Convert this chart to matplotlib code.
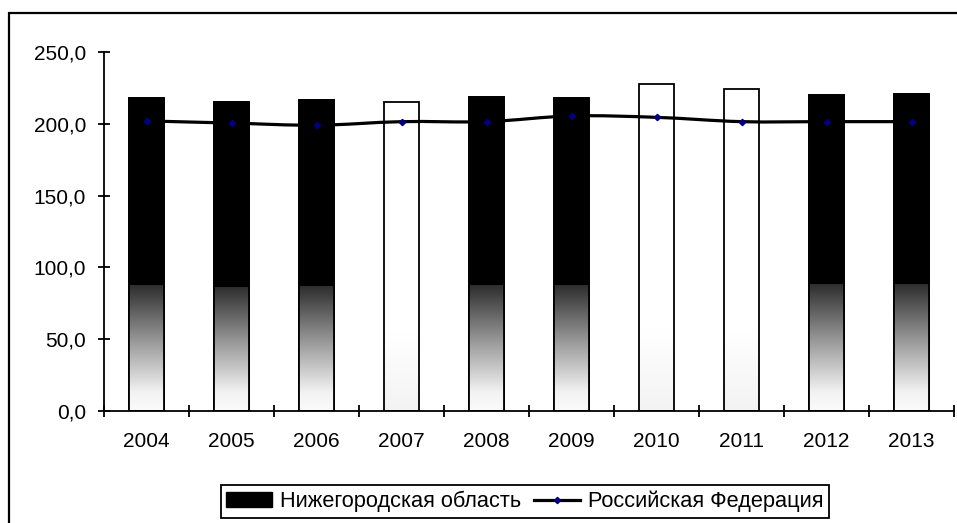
import numpy as np
import matplotlib
matplotlib.use('Agg')
import matplotlib.pyplot as plt
from matplotlib.path import Path
from matplotlib.patches import PathPatch, Rectangle
from matplotlib.lines import Line2D
from matplotlib.colors import LinearSegmentedColormap

matplotlib.rcParams.update({'font.family': 'Liberation Sans', 'font.size': 15})

# Data
years = ['2004', '2005', '2006', '2007', '2008', '2009', '2010', '2011', '2012', '2013']
nizhny = [218.0, 215.0, 216.5, 215.0, 219.0, 218.0, 228.0, 224.0, 220.0, 221.0]
russia = [202.0, 200.5, 199.0, 201.5, 201.5, 205.5, 204.5, 201.5, 201.5, 201.5]
white_bars = ['2007', '2010', '2011']

legend_labels = ['Нижегородская область', 'Российская Федерация']

fig = plt.figure(figsize=(9.57, 5.23), dpi=100)
ax = fig.add_axes([104/957, 1-411/523, 850/957, 359/523])

x = np.arange(len(years))
w = 0.41

#gradient colormap for the lower part of the dark bars
grad_cmap = LinearSegmentedColormap.from_list('g', [(0.0, '#fbfbfb'), (0.15, '#f2f2f2'),
                                                    (0.55, '#9a9a9a'), (1.0, '#2e2e2e')])
grad = np.linspace(0, 1, 256).reshape(-1, 1)
light_cmap = LinearSegmentedColormap.from_list('l', [(0.0, '#f3f3f3'), (0.25, '#ffffff'), (1.0, '#ffffff')])

for xi, yr, v in zip(x, years, nizhny):
    if yr in white_bars:
        ax.imshow(grad, cmap=light_cmap, origin='lower', aspect='auto',
                  extent=[xi-w/2, xi+w/2, 0, v], zorder=1)
        ax.bar(xi, v, w, facecolor='none', edgecolor='black', linewidth=1.3, zorder=2)
    else:
        ax.bar(xi, v, w, facecolor='black', edgecolor='black', linewidth=1.3, zorder=1)
        split = 0.4*v
        ax.imshow(grad, cmap=grad_cmap, origin='lower', aspect='auto',
                  extent=[xi-w/2, xi+w/2, 0, split], zorder=1.5)
        ax.bar(xi, v, w, facecolor='none', edgecolor='black', linewidth=1.3, zorder=2)

#smoothed line (bezier through the points)
pts = np.column_stack([x, russia]).astype(float)
ext = np.vstack([pts[0], pts, pts[-1]])
verts = [tuple(pts[0])]
codes = [Path.MOVETO]
for i in range(len(pts)-1):
    p0, p1, p2, p3 = ext[i], ext[i+1], ext[i+2], ext[i+3]
    c1 = p1 + (p2 - p0)/6
    c2 = p2 - (p3 - p1)/6
    verts += [tuple(c1), tuple(c2), tuple(p2)]
    codes += [Path.CURVE4]*3
ax.add_patch(PathPatch(Path(verts, codes), facecolor='none', edgecolor='black',
                       linewidth=2.3, zorder=3))
ax.plot(x, russia, linestyle='none', marker='D', markersize=3.2, color='#000080', zorder=4)

ax.set_xlim(-0.5, len(years)-0.5)
ax.set_ylim(0, 250)
ax.set_yticks(np.arange(0, 251, 50))
ax.yaxis.set_major_formatter(matplotlib.ticker.FuncFormatter(lambda v, p: ('%.1f' % v).replace('.', ',')))
ax.set_xticks(x)
ax.set_xticklabels(years)
ax.set_xticks(np.arange(-0.5, len(years)), minor=True)
ax.tick_params(axis='x', which='major', length=0, pad=15)
ax.tick_params(axis='x', which='minor', length=8, width=1.3, direction='inout')
ax.tick_params(axis='y', length=8, width=1.3, direction='inout', pad=9)

for s in ['top', 'right']:
    ax.spines[s].set_visible(False)
for s in ['left', 'bottom']:
    ax.spines[s].set_linewidth(1.3)

handles = [Rectangle((0, 0), 1, 1, facecolor='black', edgecolor='black'),
           Line2D([], [], color='black', linewidth=2.3, marker='D', markersize=3.2,
                  markerfacecolor='#000080', markeredgecolor='#000080')]
leg = fig.legend(handles, legend_labels, loc='center', bbox_to_anchor=(0.5486, 0.041), ncol=2,
                 fancybox=False, framealpha=1, edgecolor='black', handlelength=2.1,
                 handletextpad=0.37, columnspacing=0.6, borderpad=0.25, fontsize=15.7)
leg.get_frame().set_linewidth(1.3)

#outer chart frame
fig.patches.append(Rectangle((9/957, -0.1), 1.2, 1.1 - 13/523, transform=fig.transFigure,
                             fill=False, edgecolor='black', linewidth=1.6))

fig.savefig('out.png', dpi=100)
